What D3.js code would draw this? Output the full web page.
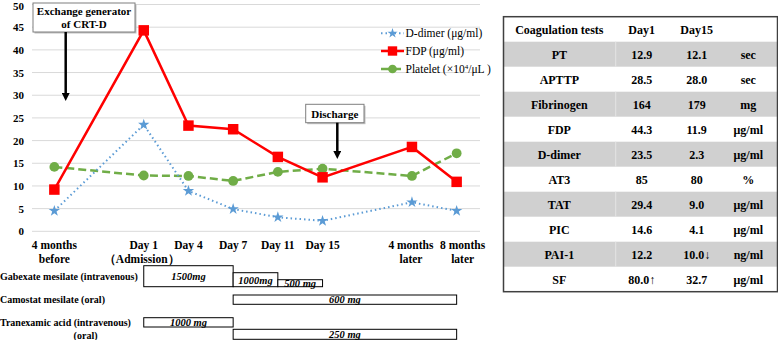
<!DOCTYPE html>
<html>
<head>
<meta charset="utf-8">
<script src="https://cdn.jsdelivr.net/npm/d3@7"></script>
<style>
  body { margin: 0; background: #fff; }
  text { font-family: "Liberation Serif", "Times New Roman", serif; }
</style>
</head>
<body>
<div id="plotdiv"></div>
<script>
// Size of figure
var outerWidth = 778;
var outerHeight = 340;

// Time slots on the x axis - the two gaps are empty slots
var slots = ["4 months before", "gap-a", "Day 1", "Day 4", "Day 7", "Day 11", "Day 15", "gap-b", "4 months later", "8 months later"];
var slotLabels = {
  "4 months before": ["4 months", "before"],
  "Day 1": ["Day 1", "（Admission）"],
  "Day 4": ["Day 4"],
  "Day 7": ["Day 7"],
  "Day 11": ["Day 11"],
  "Day 15": ["Day 15"],
  "4 months later": ["4 months", "later"],
  "8 months later": ["8 months", "later"]
};
var timePoints = ["4 months before", "Day 1", "Day 4", "Day 7", "Day 11", "Day 15", "4 months later", "8 months later"];

// Series values
var dDimer   = [4.5, 23.5, 8.9, 4.9, 3.1, 2.3, 6.4, 4.5];
var fdp      = [9.2, 44.3, 23.3, 22.5, 16.4, 11.9, 18.6, 10.9];
var platelet = [14.2, 12.3, 12.2, 11.1, 13.1, 13.8, 12.2, 17.2];

var yTicks = [0, 5, 10, 15, 20, 25, 30, 35, 40, 45, 50];

// Drug administration periods
var drugNames = ["Gabexate mesilate (intravenous)", "Camostat mesilate (oral)", "Tranexamic acid (intravenous)", "(oral)"];
var drugFrom  = ["Day 1", "Day 7", "Day 11", "Day 7", "Day 1", "Day 7"];
var drugTo    = ["Day 7", "Day 11", "Day 15", "8 months later", "Day 7", "8 months later"];
var drugRow   = [0, 0, 0, 1, 2, 3];
var drugDose  = [1500, 1000, 500, 600, 1000, 250];
var drugText  = ["1500mg", "1000mg", "500 mg", "600 mg", "1000 mg", "250 mg"];

// Coagulation table
var tableHeader = ["Coagulation tests", "Day1", "Day15", ""];
var tests = ["PT", "APTTP", "Fibrinogen", "FDP", "D-dimer", "AT3", "TAT", "PIC", "PAI-1", "SF"];
var day1  = ["12.9", "28.5", "164", "44.3", "23.5", "85", "29.4", "14.6", "12.2", "80.0↑"];
var day15 = ["12.1", "28.0", "179", "11.9", "2.3", "80", "9.0", "4.1", "10.0↓", "32.7"];
var units = ["sec", "sec", "mg", "μg/ml", "μg/ml", "%", "μg/ml", "μg/ml", "ng/ml", "μg/ml"];

var vis = d3.select("#plotdiv").append("svg")
  .attr("width", outerWidth)
  .attr("height", outerHeight);

var defs = vis.append("defs");
defs.append("marker")
  .attr("id", "arrow")
  .attr("viewBox", "0 0 10 10")
  .attr("refX", 5).attr("refY", 5)
  .attr("markerWidth", 3.2).attr("markerHeight", 3.2)
  .attr("orient", "auto")
  .append("path").attr("d", "M0,0 L10,5 L0,10 z").attr("fill", "#000");

// Scales
var xScale = d3.scaleBand().domain(slots).range([32, 479]);
function xc(k) { return xScale(k) + xScale.bandwidth() / 2; }
var yScale = d3.scaleLinear().domain([0, 50]).range([231.3, 4.5]);

// Grid lines
var gGrid = vis.append("g");
gGrid.selectAll("line").data(yTicks).enter().append("line")
  .attr("x1", 32).attr("x2", 480)
  .attr("y1", function(d) { return yScale(d); })
  .attr("y2", function(d) { return yScale(d); })
  .attr("stroke", "#d9d9d9").attr("stroke-width", 1);

// Y axis labels
var axisY = d3.axisLeft(yScale).tickValues(yTicks).tickSize(0).tickPadding(0);
var gAxisY = vis.append("g").attr("transform", "translate(24,0)").call(axisY);
gAxisY.select(".domain").remove();
gAxisY.selectAll("text")
  .attr("font-family", "Liberation Serif").attr("font-weight", "bold")
  .attr("font-size", 11).attr("fill", "#000")
  .attr("dy", function(d) { return d == 50 ? "0.45em" : "0.32em"; });

// X labels - the last one sits a little right of its point, as in the original
var labelShift = {"4 months later": -1, "8 months later": 6};
var gXLab = vis.append("g");
timePoints.forEach(function(k) {
  var cx = xc(k) + (labelShift[k] || 0);
  var t = gXLab.append("text")
    .attr("x", cx).attr("y", 249)
    .attr("text-anchor", "middle")
    .attr("font-weight", "bold").attr("font-size", 11.5);
  slotLabels[k].forEach(function(s, i) {
    t.append("tspan").attr("x", cx - (s.charAt(0) == "（" ? 2 : 0)).attr("dy", i == 0 ? 0 : 13.5).text(s);
  });
});

// Series
var series = [
  {name: "D-dimer", values: dDimer, color: "#5b9bd5", width: 2, dash: "1.5,3", symbol: d3.symbolStar, size: 40},
  {name: "FDP", values: fdp, color: "#ff0000", width: 2.5, dash: null, symbol: d3.symbolSquare, size: 110},
  {name: "Platelet", values: platelet, color: "#70ad47", width: 2.5, dash: "8,4", symbol: d3.symbolCircle, size: 75}
];
var line = d3.line()
  .x(function(d, i) { return xc(timePoints[i]); })
  .y(function(d) { return yScale(d); });

var drawOrder = [2, 1, 0];
drawOrder.forEach(function(si) {
  var s = series[si];
  var g = vis.append("g");
  g.append("path").datum(s.values)
    .attr("d", line).attr("fill", "none")
    .attr("stroke", s.color).attr("stroke-width", s.width)
    .attr("stroke-dasharray", s.dash);
  g.selectAll(".pt").data(s.values).enter().append("path")
    .attr("class", "pt")
    .attr("transform", function(d, i) { return "translate(" + xc(timePoints[i]) + "," + yScale(d) + ")"; })
    .attr("d", d3.symbol().type(s.symbol).size(s.size))
    .attr("fill", s.color);
});

// Legend
var legendRowsY = [33.3, 51, 69];
var gLegend = vis.append("g");
series.forEach(function(s, i) {
  var y = legendRowsY[i];
  gLegend.append("line").attr("x1", 381).attr("x2", 404).attr("y1", y).attr("y2", y)
    .attr("stroke", s.color).attr("stroke-width", s.width).attr("stroke-dasharray", s.dash);
  gLegend.append("path").attr("transform", "translate(392.5," + y + ")")
    .attr("d", d3.symbol().type(s.symbol).size(s.size * 0.8)).attr("fill", s.color);
});
var legText = [["D-dimer (μg/ml)"], ["FDP (μg/ml)"], ["Platelet (×10", "4", "/μL )"]];
legText.forEach(function(parts, i) {
  var t = gLegend.append("text").attr("x", 405.5).attr("y", legendRowsY[i] + 4).attr("font-size", 11.5);
  t.append("tspan").text(parts[0]);
  if (parts.length > 1) {
    t.append("tspan").attr("font-size", 7).attr("dy", -4).text(parts[1]);
    t.append("tspan").attr("dy", 4).text(parts[2]);
  }
});

// Annotations
function annotate(x0, y0, w, h, lines, arrowX, arrowY2) {
  var g = vis.append("g");
  g.append("rect").attr("x", x0 + 1.5).attr("y", y0 + 1.5).attr("width", w).attr("height", h).attr("fill", "#bfbfbf");
  g.append("rect").attr("x", x0).attr("y", y0).attr("width", w).attr("height", h)
    .attr("fill", "#fff").attr("stroke", "#7f7f7f").attr("stroke-width", 1);
  lines.forEach(function(s, i) {
    g.append("text").attr("x", x0 + w / 2)
      .attr("y", y0 + (lines.length == 1 ? h / 2 + 4 : 12 + i * 13))
      .attr("text-anchor", "middle").attr("font-weight", "bold").attr("font-size", 11).text(s);
  });
  g.append("line").attr("x1", arrowX).attr("x2", arrowX).attr("y1", y0 + h).attr("y2", arrowY2)
    .attr("stroke", "#000").attr("stroke-width", 2.5).attr("marker-end", "url(#arrow)");
}
annotate(33, 3, 102, 29, ["Exchange generator", "of CRT-D"], 65.7, 97);
annotate(305.7, 104.3, 58.3, 18.4, ["Discharge"], 337.3, 155);

// Drug bars
var rowBottom = [286.7, 304.3, 327, 339.3];
var rowLabelX = [0, 0, 0, 97.5];
var rowLabelY = [280, 303, 325.5, 338.5];
var doseH = d3.scaleLinear().domain([0, 1500]).range([0, 21]);
var gDrug = vis.append("g");
drugNames.forEach(function(n, i) {
  gDrug.append("text").attr("x", rowLabelX[i]).attr("y", rowLabelY[i])
    .attr("text-anchor", i == 3 ? "end" : "start")
    .attr("font-weight", "bold").attr("font-size", 10).text(n);
});
drugDose.forEach(function(d, i) {
  var x0 = xc(drugFrom[i]), x1 = xc(drugTo[i]);
  var h = drugRow[i] == 0 ? doseH(d) : (drugRow[i] == 3 ? 10 : 9.3);
  var yb = rowBottom[drugRow[i]];
  gDrug.append("rect").attr("x", x0).attr("y", yb - h).attr("width", x1 - x0).attr("height", h)
    .attr("fill", "#fff").attr("stroke", "#000").attr("stroke-width", 1);
  gDrug.append("text").attr("x", (x0 + x1) / 2)
    .attr("y", drugRow[i] == 0 ? Math.min(yb - h / 2 + 4, yb + 2) : yb - 1)
    .attr("text-anchor", "middle").attr("font-weight", "bold").attr("font-style", "italic")
    .attr("font-size", 10.5).text(drugText[i]);
});

// Table
var tX = 503.5, tW = 274, tY = 16.7, rowH = 25;
var colX = [559.3, 641.7, 696.7, 748.3];
var gTab = vis.append("g");
var allRows = [tableHeader].concat(tests.map(function(t, i) { return [t, day1[i], day15[i], units[i]]; }));
allRows.forEach(function(r, i) {
  var y = tY + i * rowH;
  if (i % 2 == 1) {
    gTab.append("rect").attr("x", tX).attr("y", y).attr("width", tW).attr("height", rowH).attr("fill", "#d0d0d0");
    gTab.append("line").attr("x1", 615.7).attr("x2", 615.7).attr("y1", y).attr("y2", y + rowH)
      .attr("stroke", "#e4e4e4").attr("stroke-width", 1);
  }
  r.forEach(function(c, j) {
    gTab.append("text").attr("x", colX[j]).attr("y", y + rowH / 2 + 4.5)
      .attr("text-anchor", "middle").attr("font-weight", "bold").attr("font-size", 12).text(c);
  });
});
gTab.append("rect").attr("x", tX).attr("y", tY).attr("width", tW).attr("height", rowH * allRows.length)
  .attr("fill", "none").attr("stroke", "#404040").attr("stroke-width", 1.5);
</script>
</body>
</html>
